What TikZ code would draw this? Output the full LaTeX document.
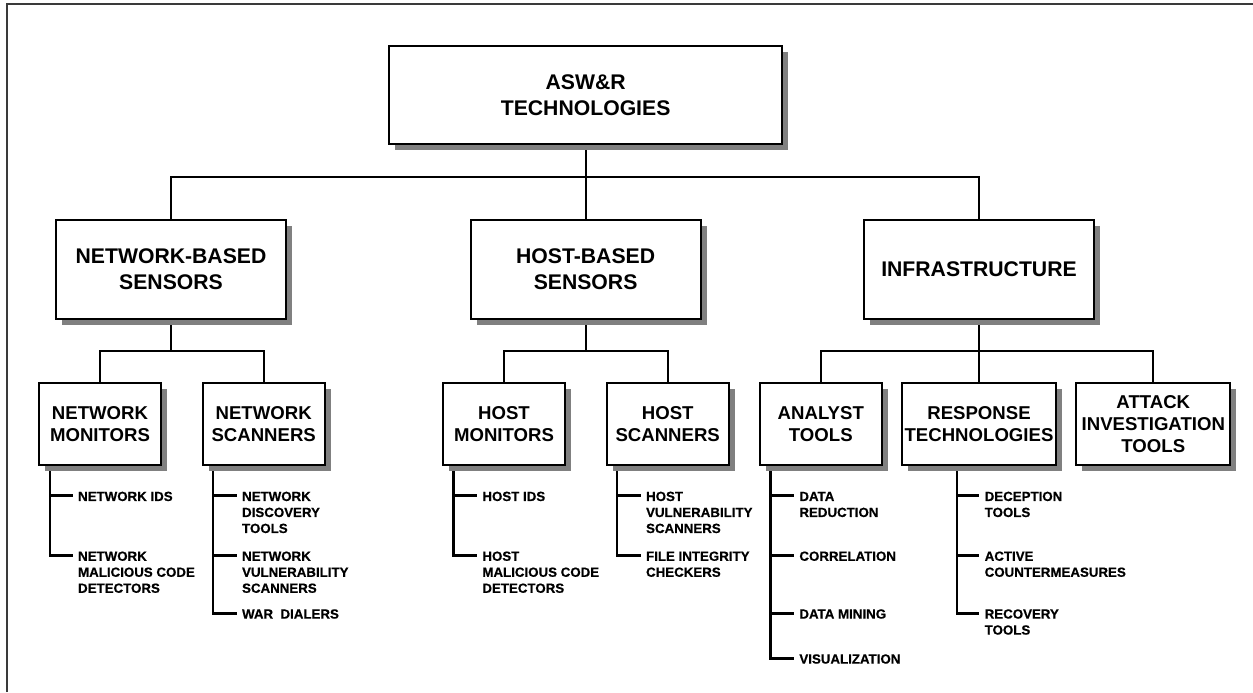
\documentclass[tikz,border=0pt]{standalone}
\usepackage{fontspec}
\setmainfont{Liberation Sans}
\newfontfamily\leaffont{Liberation Sans Bold}[FakeBold=0.6]
\usepackage{xcolor}
\usetikzlibrary{shadows,backgrounds}
\definecolor{tshade}{HTML}{808080}
\definecolor{tframe}{HTML}{3A3A3A}
\newcommand{\leaflines}[1]{\begin{tabular}[t]{@{}l@{}}#1\end{tabular}}
\tikzset{
  tlink/.style={draw=black, line width=1.05pt},
  tspine/.style={draw=black, line width=1.3pt},
  tframeline/.style={draw=tframe, line width=0.9pt},
  tbox/.style={rectangle, draw=black, fill=white, line width=1pt, align=center,
               inner sep=0pt,
               drop shadow={shadow xshift=3pt, shadow yshift=-3pt, fill=tshade, opacity=1}},
  tbig/.style={tbox, font=\fontsize{10.6}{12.85}\selectfont\bfseries,
               minimum width=115pt, minimum height=49.5pt},
  tmid/.style={tbox, font=\fontsize{9.3}{10.85}\selectfont\bfseries,
               minimum width=61pt, minimum height=40.8pt},
  tleaf/.style={anchor=mid west, inner xsep=2.5pt, inner ysep=0pt,
                font=\fontsize{6.65}{8}\selectfont\leaffont},
}
\begin{document}
\begin{tikzpicture}[x=0.5pt,y=-0.5pt]
  \useasboundingbox (0,0) rectangle (1253,692);
  \draw[tframeline] (7,692) |- (1253,4);

  % top and main branches
  \node[tbig, minimum width=196.5pt, minimum height=49.2pt] (asw) at (585.6,94.9) {ASW\&R\\TECHNOLOGIES};
  \node[tbig] (nbs) at (171,269.5)   {NETWORK-BASED\\SENSORS};
  \node[tbig] (hbs) at (585.6,269.5) {HOST-BASED\\SENSORS};
  \node[tbig] (inf) at (979,269.5)   {INFRASTRUCTURE};

  % second level
  \node[tmid] (nm)  at (100,424.2)   {NETWORK\\MONITORS};
  \node[tmid] (ns)  at (263.7,424.2) {NETWORK\\SCANNERS};
  \node[tmid] (hm)  at (504,424.2)   {HOST\\MONITORS};
  \node[tmid] (hs)  at (667.7,424.2) {HOST\\SCANNERS};
  \node[tmid] (ant) at (820.8,424.2) {ANALYST\\TOOLS};
  \node[tmid, minimum width=77pt] (rt)  at (979,424.2)    {RESPONSE\\TECHNOLOGIES};
  \node[tmid, minimum width=77pt] (ait) at (1153.3,424.2) {ATTACK\\INVESTIGATION\\TOOLS};

  % leaves
  \node[tleaf] (nm1) at (72.7,495.7) {NETWORK IDS};
  \node[tleaf] (nm2) at (72.7,555.5) {\leaflines{NETWORK\\MALICIOUS CODE\\DETECTORS}};
  \node[tleaf] (ns1) at (236.7,495.7) {\leaflines{NETWORK\\DISCOVERY\\TOOLS}};
  \node[tleaf] (ns2) at (236.7,555.5) {\leaflines{NETWORK\\VULNERABILITY\\SCANNERS}};
  \node[tleaf] (ns3) at (236.7,613.3) {WAR\ \ DIALERS};
  \node[tleaf] (hm1) at (477,495.7) {HOST IDS};
  \node[tleaf] (hm2) at (477,555.5) {\leaflines{HOST\\MALICIOUS CODE\\DETECTORS}};
  \node[tleaf] (hs1) at (640.7,495.7) {\leaflines{HOST\\VULNERABILITY\\SCANNERS}};
  \node[tleaf] (hs2) at (640.7,555.5) {\leaflines{FILE INTEGRITY\\CHECKERS}};
  \node[tleaf] (an1) at (794,495.7) {\leaflines{DATA\\REDUCTION}};
  \node[tleaf] (an2) at (794,555.5) {CORRELATION};
  \node[tleaf] (an3) at (794,613.3) {DATA MINING};
  \node[tleaf] (an4) at (794,658.3) {VISUALIZATION};
  \node[tleaf] (rt1) at (979.3,495.7) {\leaflines{DECEPTION\\TOOLS}};
  \node[tleaf] (rt2) at (979.3,555.5) {\leaflines{ACTIVE\\COUNTERMEASURES}};
  \node[tleaf] (rt3) at (979.3,613.3) {\leaflines{RECOVERY\\TOOLS}};

  \coordinate (bar)  at (0,176.7);
  \coordinate (sbar) at (0,351);
  \coordinate (nmsp) at ([xshift=6pt]nm.south west);
  \coordinate (nssp) at ([xshift=5.7pt]ns.south west);
  \coordinate (hmsp) at ([xshift=5.7pt]hm.south west);
  \coordinate (hssp) at ([xshift=5.7pt]hs.south west);
  \coordinate (ansp) at ([xshift=5.8pt]ant.south west);
  \coordinate (rtsp) at ([xshift=-11pt]rt.south);

  \begin{scope}[on background layer]
    \draw[tlink] (asw.south) -- (hbs.north);
    \draw[tlink] (nbs.north) |- (bar -| inf.north) -- (inf.north);

    \draw[tlink] (nbs.south) -- (nbs.south |- sbar);
    \draw[tlink] (nm.north) |- (sbar -| ns.north) -- (ns.north);
    \draw[tlink] (hbs.south) -- (hbs.south |- sbar);
    \draw[tlink] (hm.north) |- (sbar -| hs.north) -- (hs.north);
    \draw[tlink] (inf.south) -- (rt.north);
    \draw[tlink] (ant.north) |- (sbar -| ait.north) -- (ait.north);

    \draw[tspine] (nmsp) |- (nm2.mid west);
    \draw[tspine] (nmsp |- nm1.mid west) -- (nm1.mid west);
    \draw[tspine] (nssp) |- (ns3.mid west);
    \draw[tspine] (nssp |- ns1.mid west) -- (ns1.mid west);
    \draw[tspine] (nssp |- ns2.mid west) -- (ns2.mid west);
    \draw[tspine] (hmsp) |- (hm2.mid west);
    \draw[tspine] (hmsp |- hm1.mid west) -- (hm1.mid west);
    \draw[tspine] (hssp) |- (hs2.mid west);
    \draw[tspine] (hssp |- hs1.mid west) -- (hs1.mid west);
    \draw[tspine] (ansp) |- (an4.mid west);
    \draw[tspine] (ansp |- an1.mid west) -- (an1.mid west);
    \draw[tspine] (ansp |- an2.mid west) -- (an2.mid west);
    \draw[tspine] (ansp |- an3.mid west) -- (an3.mid west);
    \draw[tspine] (rtsp) |- (rt3.mid west);
    \draw[tspine] (rtsp |- rt1.mid west) -- (rt1.mid west);
    \draw[tspine] (rtsp |- rt2.mid west) -- (rt2.mid west);
  \end{scope}
\end{tikzpicture}
\end{document}
